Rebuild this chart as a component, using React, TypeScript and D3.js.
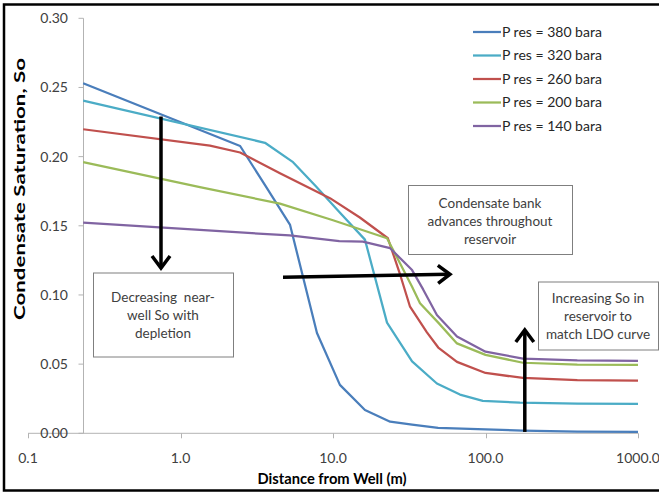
import React, { useEffect, useRef } from 'react';
import * as d3 from 'd3';

// distance (m), condensate saturation
const p380: [number, number][] = [
  [0.23, 0.253], [2.46, 0.2077], [3.6, 0.179], [5.23, 0.1506], [7.85, 0.0725], [11.1, 0.035],
  [16.2, 0.0169], [23.7, 0.0084], [33, 0.0062], [48.9, 0.004], [100, 0.0029], [176, 0.0019],
  [400, 0.0013], [1000, 0.001],
];
const p320: [number, number][] = [
  [0.23, 0.2405], [3.58, 0.21], [5.47, 0.196], [7.8, 0.178], [11, 0.16], [16.2, 0.14], [22.6, 0.08],
  [33, 0.052], [48, 0.036], [68, 0.028], [96, 0.0235], [168, 0.0221], [400, 0.0215], [1000, 0.0212],
];
const p260: [number, number][] = [
  [0.23, 0.2198], [1.56, 0.208], [2.46, 0.203], [4.49, 0.188], [9.55, 0.17], [15, 0.156], [22.9, 0.141],
  [27.5, 0.115], [32, 0.0915], [41.3, 0.073], [49, 0.062], [65, 0.0516], [100, 0.0436], [176, 0.04],
  [400, 0.0385], [1000, 0.038],
];
const p200: [number, number][] = [
  [0.23, 0.196], [1.34, 0.178], [4.49, 0.166], [10, 0.154], [22.6, 0.141], [27.5, 0.123], [33, 0.106],
  [37.2, 0.094], [49, 0.08], [65, 0.065], [100, 0.0567], [176, 0.051], [400, 0.0497], [1000, 0.0494],
];
const p140: [number, number][] = [
  [0.23, 0.1523], [1.34, 0.147], [5.2, 0.143], [11, 0.139], [15.7, 0.1386], [23.7, 0.1338], [33, 0.118],
  [39, 0.104], [48, 0.0855], [65, 0.07], [100, 0.059], [176, 0.054], [400, 0.0527], [1000, 0.0524],
];

const seriesNames = ['P res = 380 bara', 'P res = 320 bara', 'P res = 260 bara', 'P res = 200 bara', 'P res = 140 bara'];
const seriesData = [p380, p320, p260, p200, p140];
const seriesColors = ['#4a7ebb', '#4bacc6', '#c0504d', '#9bbb59', '#8064a2'];

const xTicks = [0.1, 1, 10, 100, 1000];
const yTicks = [0, 0.05, 0.1, 0.15, 0.2, 0.25, 0.3];
const yAxisAt = 0.23;

// arrows in data units: [from, to]
const arrows: [[number, number], [number, number]][] = [
  [[0.745, 0.229], [0.745, 0.1195]],
  [[4.7, 0.1128], [58.5, 0.115]],
  [[181, 0.001], [181, 0.0747]],
];

const notes = [
  { lines: ['Decreasing  near-', 'well So with', 'depletion'], box: [93, 272.5, 140, 84], cy: 297 },
  { lines: ['Condensate bank', 'advances throughout', 'reservoir'], box: [408, 185, 164, 69], cy: 203 },
  { lines: ['Increasing So in', 'reservoir to', 'match LDO curve'], box: [538, 281.5, 120, 68], cy: 298 },
];

const W = 659, H = 493;
const font = 'Lato, "Noto Sans", sans-serif';

export default function App() {
  const ref = useRef<SVGSVGElement>(null);

  useEffect(() => {
    const svg = d3.select(ref.current);
    svg.selectAll('*').remove();

    const x = d3.scaleLog().domain([0.1, 1000]).range([28, 638]);
    const y = d3.scaleLinear().domain([0, 0.3]).range([433.3, 18.3]);

    svg.append('rect').attr('width', W).attr('height', H).attr('fill', '#fff');
    svg.append('rect').attr('x', 4).attr('y', 4.5).attr('width', 670).attr('height', 486)
      .attr('fill', 'none').attr('stroke', '#000').attr('stroke-width', 2.5);

    const axisColor = '#b3b3b3';
    // x axis
    svg.append('line').attr('x1', x(0.1)).attr('x2', x(1000)).attr('y1', y(0)).attr('y2', y(0))
      .attr('stroke', axisColor);
    svg.selectAll('.xt').data(xTicks).enter().append('line')
      .attr('x1', d => Math.round(x(d)) + 0.5).attr('x2', d => Math.round(x(d)) + 0.5)
      .attr('y1', y(0)).attr('y2', y(0) + 5).attr('stroke', axisColor);
    svg.selectAll('.xl').data(xTicks).enter().append('text')
      .attr('x', d => x(d)).attr('y', 463).attr('text-anchor', 'middle')
      .attr('font-family', font).attr('font-size', 14).attr('fill', '#404040')
      .text(d => d3.format('.1f')(d));

    // y axis
    const ax = Math.round(x(yAxisAt)) + 0.5;
    svg.append('line').attr('x1', ax).attr('x2', ax).attr('y1', y(0.3)).attr('y2', y(0))
      .attr('stroke', axisColor);
    svg.selectAll('.yt').data(yTicks).enter().append('line')
      .attr('x1', ax - 5).attr('x2', ax).attr('y1', d => y(d)).attr('y2', d => y(d)).attr('stroke', axisColor);
    svg.selectAll('.yl').data(yTicks).enter().append('text')
      .attr('x', 68).attr('y', d => y(d)).attr('dy', '0.35em').attr('text-anchor', 'end')
      .attr('font-family', font).attr('font-size', 14).attr('fill', '#404040')
      .text(d => d3.format('.2f')(d));

    // titles
    svg.append('text').attr('x', 332).attr('y', 484).attr('text-anchor', 'middle')
      .attr('font-family', font).attr('font-size', 14.5).attr('font-weight', 'bold').attr('fill', '#000')
      .attr('textLength', 149).attr('lengthAdjust', 'spacingAndGlyphs')
      .text('Distance from Well (m)');
    svg.append('text').attr('transform', 'translate(25,189) rotate(-90)').attr('text-anchor', 'middle')
      .attr('font-family', font).attr('font-size', 14.5).attr('font-weight', 'bold').attr('fill', '#000')
      .attr('textLength', 262).attr('lengthAdjust', 'spacingAndGlyphs')
      .text('Condensate Saturation, So');

    // series
    const line = d3.line<[number, number]>().x(d => x(d[0])).y(d => y(d[1]));
    seriesData.forEach((s, i) => {
      svg.append('path').attr('d', line(s)).attr('fill', 'none')
        .attr('stroke', seriesColors[i]).attr('stroke-width', 2.25).attr('stroke-linejoin', 'round');
    });

    // legend
    seriesNames.forEach((n, i) => {
      const ly = 32 + i * 23.5;
      svg.append('line').attr('x1', 473).attr('x2', 501).attr('y1', ly).attr('y2', ly)
        .attr('stroke', seriesColors[i]).attr('stroke-width', 2.25);
      svg.append('text').attr('x', 502).attr('y', ly).attr('dy', '0.35em')
        .attr('font-family', font).attr('font-size', 14).attr('fill', '#262626').text(n);
    });

    // annotation boxes
    notes.forEach(nt => {
      const [bx, by, bw, bh] = nt.box;
      svg.append('rect').attr('x', bx + 0.5).attr('y', by + 0.5).attr('width', bw).attr('height', bh)
        .attr('fill', '#fff').attr('stroke', '#7f7f7f').attr('stroke-width', 1);
      nt.lines.forEach((t, j) => {
        svg.append('text').attr('x', bx + bw / 2).attr('y', nt.cy + j * 18).attr('dy', '0.35em')
          .attr('text-anchor', 'middle').attr('font-family', font).attr('font-size', 13.5)
          .attr('fill', '#404040').style('white-space', 'pre').text(t);
      });
    });

    // arrows
    arrows.forEach(([a, b]) => {
      const x1 = x(a[0]), y1 = y(a[1]), x2 = x(b[0]), y2 = y(b[1]);
      const ang = Math.atan2(y2 - y1, x2 - x1);
      const hl = 12, hw = 9;
      const bxp = x2 - hl * Math.cos(ang), byp = y2 - hl * Math.sin(ang);
      const px = -Math.sin(ang) * hw, py = Math.cos(ang) * hw;
      svg.append('line').attr('x1', x1).attr('y1', y1).attr('x2', x2 - 1.5 * Math.cos(ang)).attr('y2', y2 - 1.5 * Math.sin(ang))
        .attr('stroke', '#000').attr('stroke-width', 3.5);
      svg.append('polyline')
        .attr('points', `${bxp + px},${byp + py} ${x2},${y2} ${bxp - px},${byp - py}`)
        .attr('fill', 'none').attr('stroke', '#000').attr('stroke-width', 3.5)
        .attr('stroke-linejoin', 'miter').attr('stroke-linecap', 'butt');
    });
  }, []);

  return (
    <svg ref={ref} width={W} height={H} xmlns="http://www.w3.org/2000/svg"
      style={{ position: 'absolute', left: 0, top: 0 }} />
  );
}
